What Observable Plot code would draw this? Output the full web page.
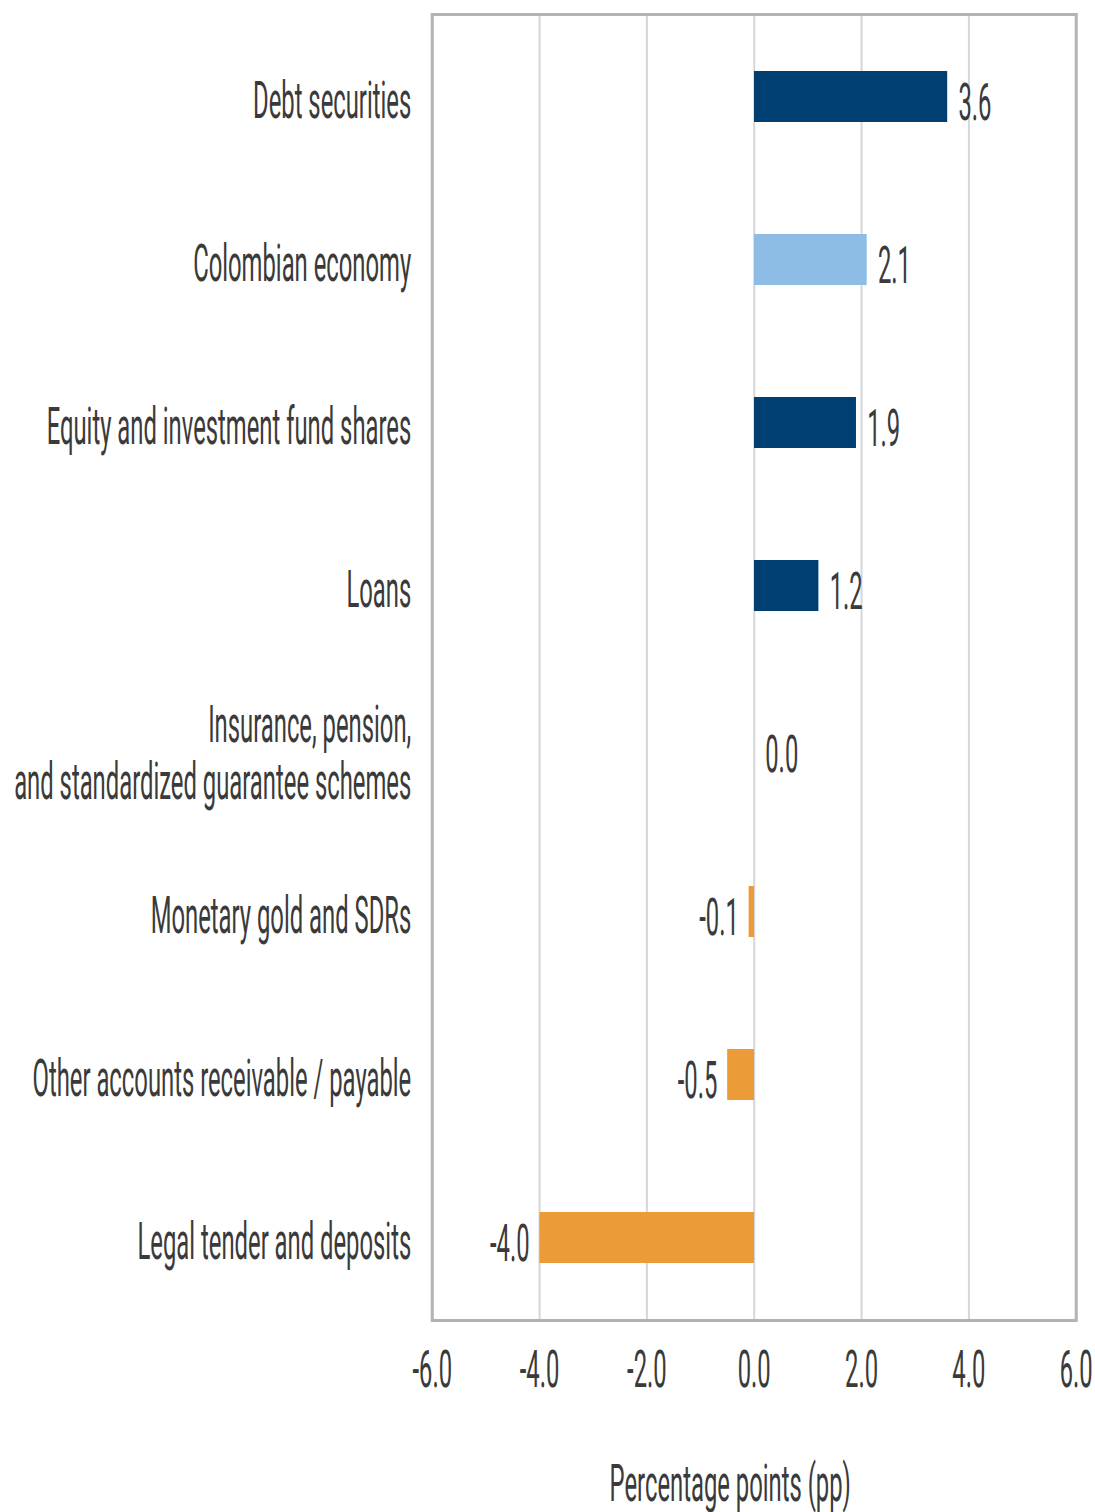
<!DOCTYPE html>
<html>
<head>
<meta charset="utf-8">
<script src="https://cdn.jsdelivr.net/npm/d3@7"></script>
<script src="https://cdn.jsdelivr.net/npm/@observablehq/plot@0.6"></script>
<style>
  html, body { margin: 0; padding: 0; background: #fff; }
  #chart svg { display: block; }
</style>
</head>
<body>
<div id="chart"></div>
<script>
// ---- data ----
const categories = [
  "Debt securities",
  "Colombian economy",
  "Equity and investment fund shares",
  "Loans",
  "Insurance, pension,\nand standardized guarantee schemes",
  "Monetary gold and SDRs",
  "Other accounts receivable / payable",
  "Legal tender and deposits"
];
const values = [3.6, 2.1, 1.9, 1.2, 0.0, -0.1, -0.5, -4.0];
const kinds = ["positive", "economy", "positive", "positive", "positive", "negative", "negative", "negative"];
const xTicks = [-6, -4, -2, 0, 2, 4, 6];
const axisTitle = "Percentage points (pp)";

const kindDomain = ["positive", "economy", "negative"];
const kindColors = ["#003f71", "#8dbde4", "#ec9b39"];

const data = categories.map((c, i) => ({category: c, value: values[i], kind: kinds[i]}));

// ---- layout (the reference is horizontally compressed; draw wide, then squeeze) ----
const SX = 0.458;
const DW = 1095, DH = 1512;
const W = DW / SX;
const fmt = v => v.toFixed(1);
const textColor = "#3a3a3a";
const FS = 52;
const FW = 400;

const chart = Plot.plot({
  width: W,
  height: DH,
  marginLeft: 432 / SX,
  marginRight: (DW - 1076) / SX,
  marginTop: 14,
  marginBottom: DH - 1320,
  style: {fontFamily: "Roboto", color: textColor, background: "#fff"},
  x: {domain: [-6, 6], ticks: xTicks},
  y: {domain: categories, paddingInner: 0.69, paddingOuter: 0.345},
  color: {domain: kindDomain, range: kindColors},
  marks: [
    Plot.gridX(xTicks, {stroke: "#d6d6d6", strokeOpacity: 1, strokeWidth: 2}),
    Plot.barX(data, {x: "value", y: "category", fill: "kind"}),
    Plot.text(data.filter(d => d.value >= 0), {
      x: "value", y: "category", text: d => fmt(d.value),
      textAnchor: "start", dx: 11 / SX, dy: 6, fontSize: FS, fontWeight: FW, fill: textColor
    }),
    Plot.text(data.filter(d => d.value < 0), {
      x: "value", y: "category", text: d => fmt(d.value),
      textAnchor: "end", dx: -10 / SX, dy: 6, fontSize: FS, fontWeight: FW, fill: textColor
    }),
    Plot.axisY({tickSize: 0, tickPadding: 21 / SX, fontSize: FS, fontWeight: FW, label: null, lineHeight: 1.1, fill: textColor, dy: 3}),
    Plot.axisX(xTicks, {tickSize: 0, tickPadding: 30, fontSize: FS, fontWeight: FW, label: null, tickFormat: fmt, fill: textColor}),
    Plot.text([axisTitle], {
      frameAnchor: "bottom", dy: 180, dx: -24 / SX, fontSize: FS, fontWeight: FW, fill: textColor
    }),
    Plot.frame({stroke: "#b3b3b3", strokeWidth: 3})
  ]
});

chart.setAttribute("width", DW);
chart.setAttribute("height", DH);
chart.setAttribute("viewBox", `0 0 ${W} ${DH}`);
chart.setAttribute("preserveAspectRatio", "none");
chart.style.maxWidth = "none";
chart.style.width = DW + "px";
chart.style.height = DH + "px";
chart.querySelectorAll("line, rect, path").forEach(el => el.setAttribute("vector-effect", "non-scaling-stroke"));
document.getElementById("chart").appendChild(chart);
</script>
</body>
</html>
